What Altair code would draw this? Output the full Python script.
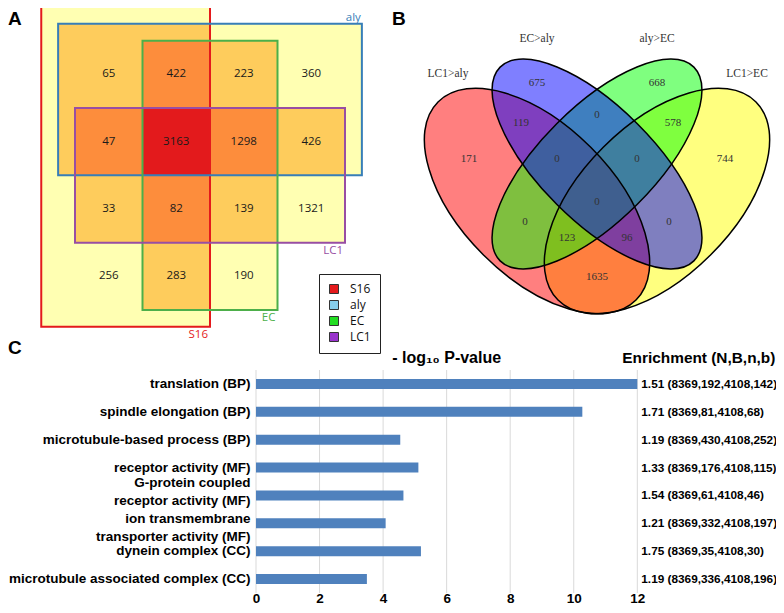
import altair as alt
import pandas as pd
from itertools import combinations

W, H = 768, 597

# ---------------- Panel A : rectangular 4-set Venn ----------------
sets = ["S16", "aly", "EC", "LC1"]
set_x1 = [-0.5, -0.25, 1.0, 0.0]
set_x2 = [2.0, 4.25, 3.0, 4.0]
set_y1 = [-0.5, -0.25, 0.0, 1.0]
set_y2 = [4.25, 2.0, 4.0, 3.0]
set_line_colors = ["#E41A1C", "#377EB8", "#4DAF4A", "#984EA3"]
legend_colors = ["#E41A1C", "#87CEEB", "#22DD22", "#9933CC"]
overlap_colors = ["#FFFFB2", "#FECC5C", "#FD8D3C", "#E31A1C"]
cell_counts = [
    [65, 422, 223, 360],
    [47, 3163, 1298, 426],
    [33, 82, 139, 1321],
    [256, 283, 190, None],
]

# ---------------- Panel B : 4-ellipse Venn ----------------
venn_sets = ["LC1>aly", "EC>aly", "aly>EC", "LC1>EC"]
ell_cx = [0.35, 0.5, 0.5, 0.65]
ell_cy = [0.47, 0.5625, 0.5625, 0.47]
ell_a = [0.35, 0.3425, 0.3425, 0.35]
ell_b = [0.19, 0.1425, 0.1425, 0.19]
ell_rot = [45, 45, 135, 135]
ell_fill = ["#FF0000", "#0000FF", "#00FF00", "#FFFF00"]
ell_z = [1, 3, 2, 0]
cat_x = [0.1275, 0.35, 0.65, 0.875]
cat_y = [0.7875, 0.875, 0.875, 0.7875]
region_counts = [171, 675, 668, 744, 119, 0, 578, 0, 0, 0, 0, 0, 123, 96, 1635]
region_x = [0.18, 0.35, 0.65, 0.82, 0.31, 0.5, 0.69, 0.4, 0.6, 0.5, 0.32, 0.68, 0.425, 0.575, 0.5]
region_y = [0.575, 0.766, 0.766, 0.575, 0.664, 0.685, 0.664, 0.575, 0.575, 0.467, 0.417, 0.417, 0.377, 0.377, 0.28]

# ---------------- Panel C : GO enrichment bars ----------------
go_terms = [
    "translation (BP)",
    "spindle elongation (BP)",
    "microtubule-based process (BP)",
    "receptor activity (MF)",
    "G-protein coupled|receptor activity (MF)",
    "ion transmembrane|transporter activity (MF)",
    "dynein complex (CC)",
    "microtubule associated complex (CC)",
]
neg_log_p = [12.0, 10.27, 4.54, 5.11, 4.64, 4.08, 5.19, 3.49]
enrichment = [
    "1.51 (8369,192,4108,142)",
    "1.71 (8369,81,4108,68)",
    "1.19 (8369,430,4108,252)",
    "1.33 (8369,176,4108,115)",
    "1.54 (8369,61,4108,46)",
    "1.21 (8369,332,4108,197)",
    "1.75 (8369,35,4108,30)",
    "1.19 (8369,336,4108,196)",
]
x_ticks = [0, 2, 4, 6, 8, 10, 12]
headers = ["- log\u2081\u2080 P-value", "Enrichment (N,B,n,b)"]

fontA = "Liberation Sans Narrow, Open Sans, sans-serif"
fontB = "Liberation Serif, DejaVu Serif, serif"
fontC = "Liberation Sans, Arial, sans-serif"

# ---------- build panel A ----------
sets_df = pd.DataFrame({"set": sets, "x1": set_x1, "x2": set_x2, "y1": set_y1,
                        "y2": set_y2, "color": set_line_colors})
fill_rows = []
for k in range(1, 5):
    for combo in combinations(range(4), k):
        fill_rows.append({
            "k": k,
            "x1": max(set_x1[i] for i in combo), "x2": min(set_x2[i] for i in combo),
            "y1": max(set_y1[i] for i in combo), "y2": min(set_y2[i] for i in combo),
        })
fills_df = pd.DataFrame(fill_rows)
cnt_rows = []
for r, row in enumerate(cell_counts):
    for c, v in enumerate(row):
        if v is not None:
            cnt_rows.append({"col": c + 0.5, "row": r + 0.5, "n": str(v)})
cnt_df = pd.DataFrame(cnt_rows)

xA = alt.Scale(domain=[0, 4], range=[67, 337], nice=False, zero=False)
yA = alt.Scale(domain=[0, 4], range=[32.7, 302], nice=False, zero=False)

legend_layer = alt.Chart(sets_df).transform_calculate(px="1.5", py="1.5").mark_square(
    opacity=1, size=20
).encode(
    x=alt.X("px:Q", scale=xA, axis=None),
    y=alt.Y("py:Q", scale=yA, axis=None),
    color=alt.Color("set:N", scale=alt.Scale(domain=sets, range=legend_colors),
                    legend=alt.Legend(orient="none", legendX=311, legendY=266, title=None,
                                      strokeColor="#222", fillColor="white", padding=9,
                                      symbolType="square", symbolSize=81,
                                      symbolStrokeColor="#333", symbolStrokeWidth=1,
                                      symbolOpacity=1, labelFont=fontA, labelFontSize=12,
                                      labelColor="#111", labelOffset=10, rowPadding=2)),
)

fills = alt.Chart(fills_df).mark_rect(strokeWidth=0).encode(
    x=alt.X("x1:Q", scale=xA, axis=None), x2="x2:Q",
    y=alt.Y("y1:Q", scale=yA, axis=None), y2="y2:Q",
    fill=alt.Fill("k:O", scale=alt.Scale(domain=[1, 2, 3, 4], range=overlap_colors), legend=None),
)
outlines = alt.Chart(sets_df).mark_rect(fillOpacity=0, strokeWidth=2).encode(
    x=alt.X("x1:Q", scale=xA, axis=None), x2="x2:Q",
    y=alt.Y("y1:Q", scale=yA, axis=None), y2="y2:Q",
    stroke=alt.Stroke("color:N", scale=None),
)
counts_A = alt.Chart(cnt_df).mark_text(font=fontA, fontSize=11.5, color="#1a1a1a").encode(
    x=alt.X("col:Q", scale=xA, axis=None), y=alt.Y("row:Q", scale=yA, axis=None), text="n:N",
)
lab_above = alt.Chart(sets_df[sets_df["set"] == "aly"]).mark_text(
    font=fontA, fontSize=11.5, align="right", baseline="bottom", dx=-1, dy=-1
).encode(
    x=alt.X("x2:Q", scale=xA, axis=None), y=alt.Y("y1:Q", scale=yA, axis=None),
    text="set:N", color=alt.Color("color:N", scale=None),
)
lab_below = alt.Chart(sets_df[sets_df["set"] != "aly"]).mark_text(
    font=fontA, fontSize=11.5, align="right", baseline="top", dx=-2, dy=2
).encode(
    x=alt.X("x2:Q", scale=xA, axis=None), y=alt.Y("y2:Q", scale=yA, axis=None),
    text="set:N", color=alt.Color("color:N", scale=None),
)
panelA = alt.layer(legend_layer, fills, outlines, counts_A, lab_above, lab_below)

# ---------- build panel B ----------
ell_df = pd.DataFrame({"set": venn_sets, "cx": ell_cx, "cy": ell_cy, "a": ell_a, "b": ell_b,
                       "rot": ell_rot, "fill": ell_fill, "z": ell_z})
cat_df = pd.DataFrame({"set": venn_sets, "x": cat_x, "y": cat_y})
reg_df = pd.DataFrame({"n": [str(v) for v in region_counts], "x": region_x, "y": region_y})

xB = alt.Scale(domain=[0, 1], range=[389, 789], nice=False, zero=False)
yB = alt.Scale(domain=[0, 1], range=[381, -19], nice=False, zero=False)
sizeB = alt.Scale(type="pow", exponent=2, domain=[0, 1], range=[0, 640000])

path_expr = ("'M1,0C1,' + datum.kr + ',0.5523,' + datum.r + ',0,' + datum.r"
             " + 'C-0.5523,' + datum.r + ',-1,' + datum.kr + ',-1,0'"
             " + 'C-1,' + (-datum.kr) + ',-0.5523,' + (-datum.r) + ',0,' + (-datum.r)"
             " + 'C0.5523,' + (-datum.r) + ',1,' + (-datum.kr) + ',1,0Z'")

ell_base = alt.Chart(ell_df).transform_calculate(
    r="datum.b / datum.a"
).transform_calculate(
    kr="0.5523 * datum.r"
).transform_calculate(
    path=path_expr
)
ell_enc = dict(
    x=alt.X("cx:Q", scale=xB, axis=None),
    y=alt.Y("cy:Q", scale=yB, axis=None),
    shape=alt.Shape("path:N", scale=None),
    angle=alt.Angle("rot:Q", scale=None),
    size=alt.Size("a:Q", scale=sizeB, legend=None),
    order=alt.Order("z:Q"),
)
ell_fills = ell_base.mark_point(filled=True, opacity=1, fillOpacity=0.5, strokeWidth=0).encode(
    fill=alt.Fill("fill:N", scale=None), **ell_enc
)
ell_lines = ell_base.mark_point(filled=False, opacity=1, stroke="black", strokeWidth=1.5).encode(
    **ell_enc
)
cat_text = alt.Chart(cat_df).mark_text(font=fontB, fontSize=11.5, color="#333").encode(
    x=alt.X("x:Q", scale=xB, axis=None), y=alt.Y("y:Q", scale=yB, axis=None), text="set:N",
)
reg_text = alt.Chart(reg_df).mark_text(font=fontB, fontSize=11, color="#333").encode(
    x=alt.X("x:Q", scale=xB, axis=None), y=alt.Y("y:Q", scale=yB, axis=None), text="n:N",
)
panelB = alt.layer(ell_fills, ell_lines, cat_text, reg_text)

# ---------- build panel C ----------
c_df = pd.DataFrame({"term": go_terms, "val": neg_log_p, "enr": enrichment})
tick_df = pd.DataFrame({"t": x_ticks})
xC = alt.Scale(domain=[0, 12], range=[248, 629.3], nice=False, zero=False)
yC = alt.Scale(domain=go_terms, range=[362, 585], paddingInner=0, paddingOuter=0)

label_shift = {
    "condition": [
        {"test": "indexof(datum.label, 'G-protein') >= 0", "value": -12},
        {"test": "indexof(datum.label, 'ion trans') >= 0", "value": -4},
    ],
    "value": 0,
}

grid = alt.Chart(tick_df).mark_rule(color="#D9D9D9", strokeWidth=1).encode(
    x=alt.X("t:Q", scale=xC,
            axis=alt.Axis(values=x_ticks, orient="bottom", offset=-14, grid=False,
                          domain=False, ticks=False, tickSize=0, labelPadding=0,
                          labelFont=fontC, labelFontSize=13.5, labelFontWeight="bold",
                          labelColor="black", labelFlush=False, format="d",
                          title=None, labelBaseline="top")),
    y=alt.value(362), y2=alt.value(585),
)
bars = alt.Chart(c_df).mark_bar(height=10, color="#4F81BD").encode(
    x=alt.X("val:Q", scale=xC),
    y=alt.Y("term:N", scale=yC, sort=None,
            axis=alt.Axis(orient="left", offset=-242, domain=False, ticks=False, tickSize=0,
                          labelPadding=0, labelFont=fontC, labelFontSize=13.5,
                          labelFontWeight="bold", labelColor="black", labelLimit=400,
                          labelLineHeight=18, labelExpr="split(datum.label, '|')",
                          labelOffset=label_shift, title=None, grid=False)),
)
enr_text = alt.Chart(c_df).mark_text(font=fontC, fontSize=11.8, fontWeight="bold",
                                     align="left", dx=4, color="black").encode(
    x=alt.datum(12), y=alt.Y("term:N", scale=yC, sort=None), text="enr:N",
)
hdr1 = alt.Chart(pd.DataFrame({"t": [headers[0]]})).mark_text(
    font=fontC, fontSize=16, fontWeight="bold", align="center", dy=-26, color="black"
).encode(x=alt.datum(6), y=alt.datum(go_terms[0]), text="t:N")
hdr2 = alt.Chart(pd.DataFrame({"t": [headers[1]]})).mark_text(
    font=fontC, fontSize=15.4, fontWeight="bold", align="left", dx=-15, dy=-26, color="black"
).encode(x=alt.datum(12), y=alt.datum(go_terms[0]), text="t:N")
panelC = alt.layer(grid, bars, enr_text, hdr1, hdr2)

# ---------- panel letters ----------
def letter(t, px, py):
    return alt.Chart(pd.DataFrame({"t": [t]})).mark_text(
        font=fontC, fontSize=19, fontWeight="bold", align="left", baseline="top", color="black"
    ).encode(x=alt.value(px), y=alt.value(py), text="t:N")

chart = alt.layer(
    panelA, panelB, panelC, letter("A", 0, 2), letter("B", 384, 2), letter("C", 0, 331)
).resolve_scale(
    x="independent", y="independent"
).properties(
    width=W, height=H, autosize=alt.AutoSizeParams(type="none"), padding=0
).configure_view(strokeWidth=0)

chart.save("out.html", embed_options={"renderer": "svg", "actions": False})
